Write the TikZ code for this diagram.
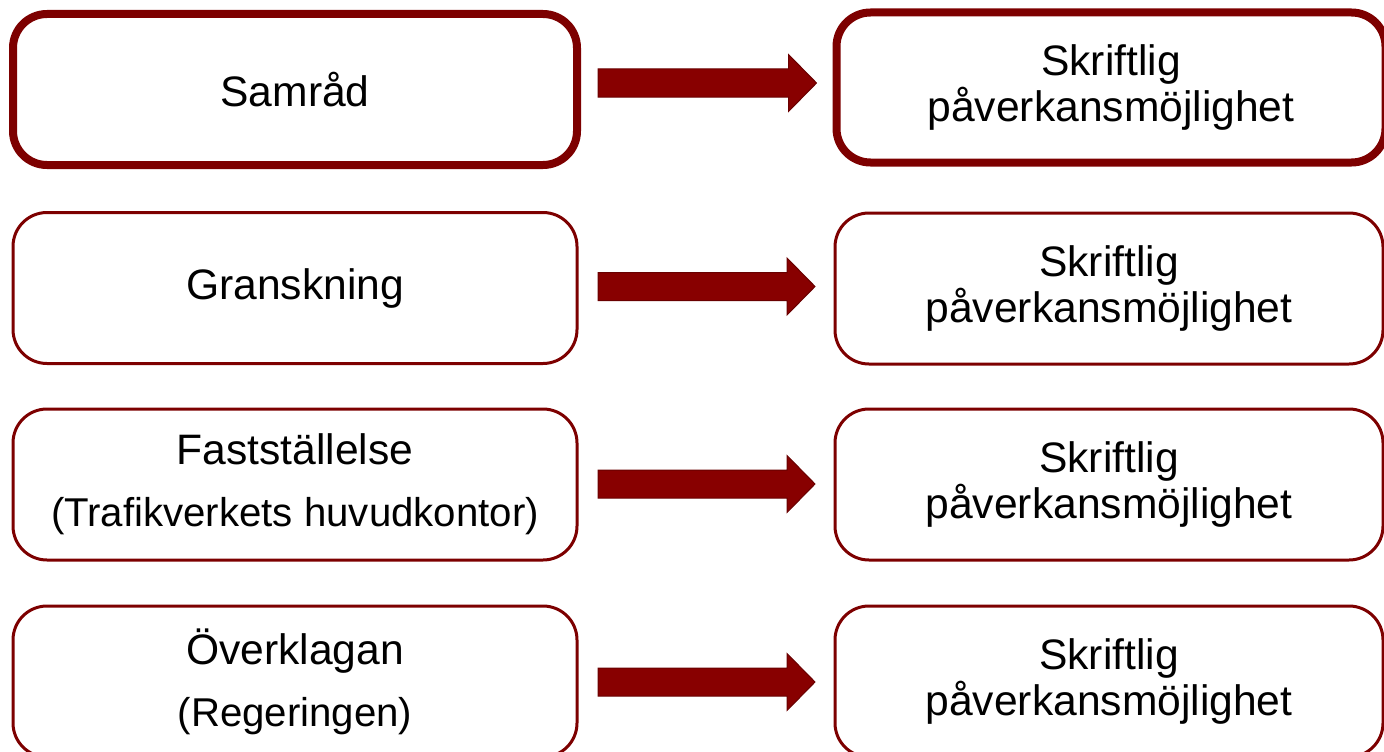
\documentclass[tikz,border=0pt]{standalone}
\usepackage{fontspec}
\setmainfont{Liberation Sans}
\usetikzlibrary{calc}
\definecolor{boxred}{RGB}{125,0,0}
\definecolor{arrfill}{RGB}{136,0,0}
\definecolor{arrline}{RGB}{105,0,0}
\tikzset{
  stepbox/.style={draw=boxred, line width=3pt, rectangle, rounded corners=34pt,
    outer sep=0pt, inner sep=0pt, align=center, text=black,
    font=\fontsize{42.6}{46}\selectfont},
  firstbox/.style={stepbox, line width=8pt},
  leftbox/.style={minimum width=564pt, minimum height=151pt},
  rightbox/.style={minimum width=548pt, minimum height=151pt},
  fatarrow/.style={fill=arrfill, draw=arrline, line width=1pt, line join=miter}
}
\newcommand\sublinefont{\fontsize{40.2}{62}\selectfont}
\newcommand\bigarrow[3]{%
  \path (#1.east) ++(0pt,#3) coordinate (#1s) (#2.west) coordinate (#1t);
  \draw[fatarrow] let \p1=(#1s), \p2=(#1t) in
    (\x1+21pt,\y1+14pt) -- (\x2-48pt,\y1+14pt) -- (\x2-48pt,\y1+28.5pt)
    -- (\x2-20pt,\y1) -- (\x2-48pt,\y1-28.5pt) -- (\x2-48pt,\y1-14pt)
    -- (\x1+21pt,\y1-14pt) -- cycle;}
\begin{document}
\begin{tikzpicture}[x=1pt,y=-1pt]
\useasboundingbox (0,0) rectangle (1384,752);
% row 1
\node[firstbox, leftbox] (l1) at (295,89.5) {Samråd};
\node[firstbox, minimum width=549pt, minimum height=150pt] (r1) at (1111,87.5) {Skriftlig\\påverkansmöjlighet};
% row 2
\node[stepbox, leftbox] (l2) at (295,288) {Granskning};
\node[stepbox, rightbox] (r2) at (1109,288.5) {Skriftlig\\påverkansmöjlighet};
% row 3
\node[stepbox, leftbox, font=\fontsize{42.6}{62}\selectfont] (l3) at (295,484.5) {Fastställelse\\{\sublinefont(Trafikverkets huvudkontor)}};
\node[stepbox, rightbox] (r3) at (1109,484.5) {Skriftlig\\påverkansmöjlighet};
% row 4
\node[stepbox, leftbox, font=\fontsize{42.6}{62}\selectfont] (l4) at (295,681.5) {Överklagan\\{\sublinefont(Regeringen)}};
\node[stepbox, rightbox] (r4) at (1109,681.5) {Skriftlig\\påverkansmöjlighet};
% arrows
\bigarrow{l1}{r1}{6.5pt}
\bigarrow{l2}{r2}{1.5pt}
\bigarrow{l3}{r3}{0.5pt}
\bigarrow{l4}{r4}{-0.5pt}
\end{tikzpicture}
\end{document}
